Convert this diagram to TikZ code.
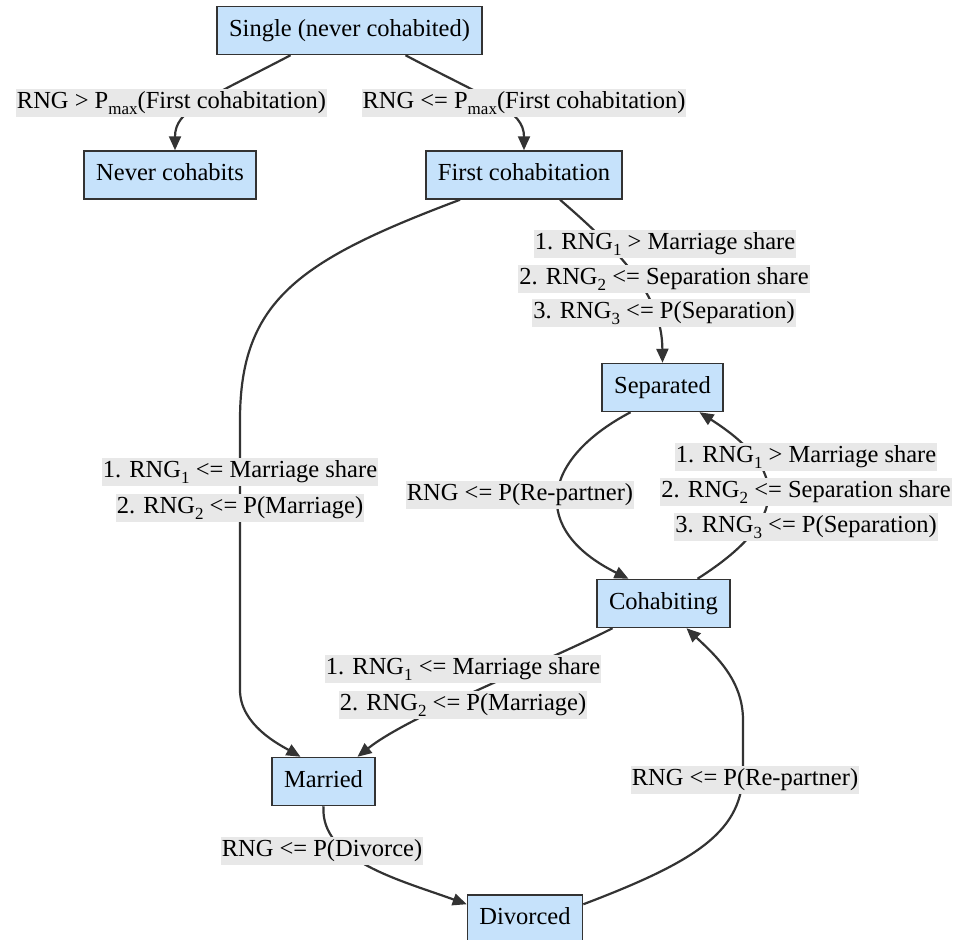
\documentclass[tikz,border=0pt]{standalone}
\usepackage{fontspec}
\setmainfont{LiberationSerif}[Extension=.ttf,UprightFont=*-Regular,BoldFont=*-Bold]
\usetikzlibrary{arrows.meta}
\definecolor{stateFill}{HTML}{C6E2FB}
\definecolor{lineDark}{HTML}{333333}
\definecolor{labelGray}{HTML}{E8E8E8}
\newcommand{\lowidx}[1]{\raisebox{-6pt}{\fontsize{17}{17}\selectfont #1}}
\tikzset{
  state/.style={
    draw=lineDark,fill=stateFill,line width=1.5pt,inner xsep=12pt,inner ysep=0pt,
    minimum height=48pt,text height=17pt,text depth=6pt,font=\fontsize{24.5}{29}\selectfont,
  },
  cond/.style={
    fill=labelGray,inner xsep=1pt,inner ysep=2pt,
    text height=17pt,text depth=7pt,font=\fontsize{24.5}{29}\selectfont,
  },
  trans/.style={
    draw=lineDark,line width=2.2pt,-{Triangle[length=14pt,width=12pt]},
  },
}

\begin{document}
\begin{tikzpicture}[x=1pt,y=-1pt]
   \useasboundingbox (0,0) rectangle (962,940);

   % NODES
   \node[state] (single) at (349.5, 30.5) {Single (never cohabited)}; % start
   \node[state] (never) at (170.0, 175.0) {Never cohabits};
   \node[state] (first) at (524.0, 175.0) {First cohabitation};
   \node[state] (sep) at (662.5, 387.5) {Separated};
   \node[state] (cohab) at (663.5, 603.5) {Cohabiting};
   \node[state] (married) at (323.5, 781.5) {Married};
   \node[state] (divorced) at (525.0, 919.0) {Divorced}; % cut at bottom

   % DRAW TRANSITIONS
   \path[trans] ([xshift=-59pt]single.south) .. controls (205,100) and (175,110) .. ([xshift=5pt]never.north);
   \path[trans] ([xshift=56pt]single.south) .. controls (490,100) and (524,110) .. (first.north);
   \path[trans] ([xshift=36pt]first.south) .. controls (630,260) and (662,300) .. (sep.north);
   \path[trans] ([xshift=-64pt]first.south) .. controls (300,260) and (240,300) .. (240,420)
      -- (240,690) .. controls (240,725) and (280,745) .. ([xshift=-23pt]married.north);
   \path[trans] ([xshift=-32pt]sep.south) .. controls (540,460) and (530,530) .. ([xshift=-35pt]cohab.north);
   \path[trans] ([xshift=34pt]cohab.north) .. controls (790,520) and (790,470) .. ([xshift=37pt]sep.south);
   \path[trans] ([xshift=-51pt]cohab.south) .. controls (540,665) and (410,715) .. ([xshift=34pt]married.north);
   \path[trans] (married.south) .. controls (320,860) and (400,880) .. ([yshift=-10pt]divorced.north west);
   \path[trans] ([yshift=-10pt]divorced.north east) .. controls (700,860) and (743,830) .. (743,770)
      -- (743,720) .. controls (743,680) and (715,655) .. ([xshift=23pt]cohab.south);

   % EDGE LABELS
   \node[cond] (lNever) at (171.5, 103.0) {RNG > P\lowidx{max}(First cohabitation)};
   \node[cond] (lFirst) at (524.0, 103.0) {RNG <= P\lowidx{max}(First cohabitation)};
   \node[cond] (lSepA) at (665.0, 244.0) {1. RNG\lowidx{1} > Marriage share};
   \node[cond] (lSepB) at (664.0, 279.0) {2. RNG\lowidx{2} <= Separation share};
   \node[cond] (lSepC) at (664.0, 313.0) {3. RNG\lowidx{3} <= P(Separation)};
   \node[cond] (lMarA) at (240.0, 472.0) {1. RNG\lowidx{1} <= Marriage share};
   \node[cond] (lMarB) at (240.0, 508.0) {2. RNG\lowidx{2} <= P(Marriage)};
   \node[cond] (lRepA) at (520.0, 495.0) {RNG <= P(Re-partner)};
   \node[cond] (lBackA) at (806.0, 457.0) {1. RNG\lowidx{1} > Marriage share};
   \node[cond] (lBackB) at (806.0, 492.0) {2. RNG\lowidx{2} <= Separation share};
   \node[cond] (lBackC) at (806.0, 527.0) {3. RNG\lowidx{3} <= P(Separation)};
   \node[cond] (lWedA) at (463.0, 669.0) {1. RNG\lowidx{1} <= Marriage share};
   \node[cond] (lWedB) at (463.0, 705.0) {2. RNG\lowidx{2} <= P(Marriage)};
   \node[cond] (lDiv) at (322.0, 851.0) {RNG <= P(Divorce)};
   \node[cond] (lRepB) at (745.0, 780.0) {RNG <= P(Re-partner)};

\end{tikzpicture}
\end{document}
